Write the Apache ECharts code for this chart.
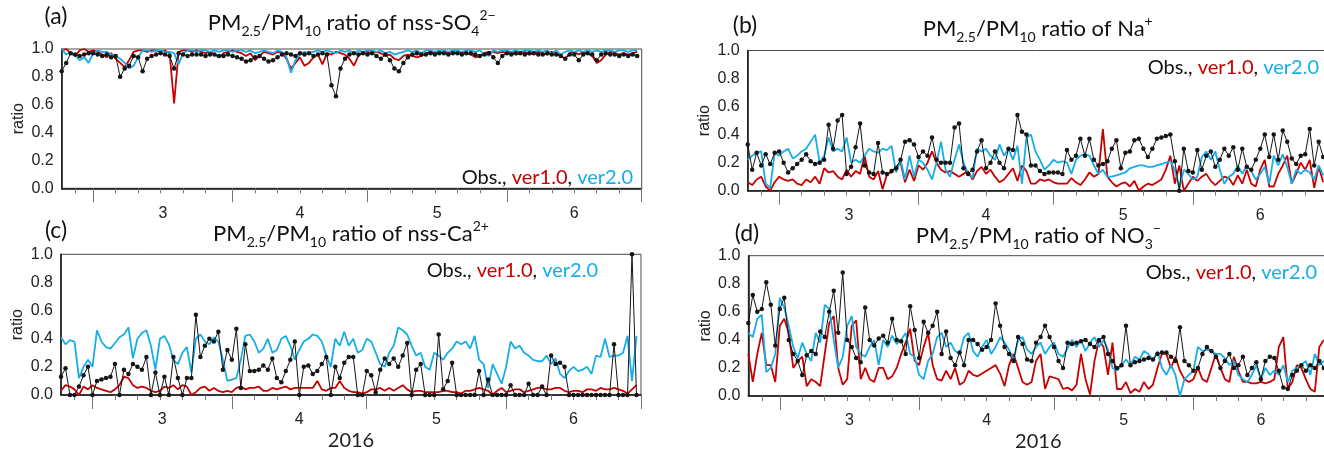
<!DOCTYPE html>
<html>
<head>
<meta charset="utf-8">
<script src="https://cdn.jsdelivr.net/npm/echarts@6/dist/echarts.min.js"></script>
<style>
  html, body { margin: 0; padding: 0; background: #fff; }
  #chart { width: 1324px; height: 451px; }
</style>
</head>
<body>
<div id="chart"></div>
<script>
// Daily PM2.5/PM10 ratios, 23 Feb – 30 Jun 2016 (day-of-year 54 … 182)
const START_DAY = 54;
const END_DAY = 183;                                  // 1 Jul 2016
const monthStarts = [61, 92, 122, 153, 183];          // 1 Mar, 1 Apr, 1 May, 1 Jun, 1 Jul
const monthLabels = ['3', '4', '5', '6'];
const minorTickDays = [57, 66, 71, 76, 81, 86, 97, 102, 107, 112, 117, 127, 132, 137, 142, 147, 158, 163, 168, 173, 178];
const yTickLabels = ['0.0', '0.2', '0.4', '0.6', '0.8', '1.0'];
const seriesNames = ['Obs.', 'ver1.0', 'ver2.0'];

// (a) nss-SO4 2-
const so4Obs = [
  0.84,0.90,0.97,0.96,0.95,0.96,0.97,0.97,0.96,0.95,
  0.96,0.94,0.95,0.80,0.86,0.88,0.95,0.94,0.84,0.93,
  0.95,0.96,0.97,0.96,0.95,0.86,0.97,0.96,0.95,0.96,
  0.96,0.96,0.95,0.96,0.96,0.95,0.95,0.96,0.95,0.94,
  0.93,0.91,0.92,0.94,0.95,0.93,0.91,0.92,0.94,0.96,
  0.97,0.96,0.95,0.97,0.96,0.97,0.95,0.96,0.97,0.96,
  0.74,0.66,0.86,0.93,0.96,0.97,0.96,0.97,0.96,0.97,
  0.95,0.93,0.96,0.92,0.86,0.84,0.90,0.94,0.96,0.97,
  0.96,0.96,0.97,0.96,0.97,0.97,0.96,0.97,0.97,0.96,
  0.97,0.97,0.96,0.95,0.96,0.97,0.94,0.90,0.95,0.97,
  0.96,0.97,0.97,0.96,0.97,0.97,0.96,0.96,0.97,0.96,
  0.96,0.95,0.93,0.96,0.96,0.92,0.96,0.97,0.96,0.92,
  0.96,0.97,0.96,0.96,0.95,0.96,0.95,0.96,0.95
];
const so4V1 = [
  0.99,1.00,0.97,0.95,0.99,1.00,0.98,0.99,0.98,0.96,
  0.94,0.97,0.93,0.90,0.87,0.92,0.98,0.99,0.99,0.98,
  0.99,0.99,0.98,0.99,0.97,0.61,0.98,0.99,0.99,0.98,
  0.99,0.98,0.97,0.98,0.96,0.94,0.97,0.98,0.99,0.98,
  0.97,0.95,0.97,0.92,0.95,0.98,0.97,0.96,0.98,0.97,
  0.93,0.86,0.90,0.94,0.88,0.90,0.94,0.96,0.89,0.97,
  0.96,0.98,0.97,0.96,0.93,0.88,0.95,0.98,0.98,0.97,
  0.98,0.97,0.95,0.96,0.93,0.92,0.95,0.96,0.95,0.94,
  0.95,0.97,0.98,0.97,0.98,0.97,0.98,0.98,0.97,0.98,
  0.97,0.96,0.94,0.95,0.97,0.98,0.98,0.97,0.98,0.97,
  0.98,0.96,0.97,0.98,0.96,0.97,0.98,0.97,0.96,0.98,
  0.97,0.95,0.93,0.97,0.98,0.96,0.98,0.97,0.95,0.90,
  0.92,0.96,0.98,0.97,0.96,0.97,0.96,0.97,0.98
];
const so4V2 = [
  1.00,0.96,0.98,0.95,0.92,0.94,0.90,0.97,0.99,0.98,
  0.98,0.96,0.95,0.93,0.90,0.86,0.88,0.94,0.99,0.99,
  0.98,0.99,0.99,0.98,0.98,0.97,0.89,0.97,0.99,0.99,
  0.98,0.99,0.99,0.98,0.99,0.98,0.99,0.99,0.98,0.99,
  0.99,0.98,0.99,0.97,0.98,0.99,0.98,0.97,0.99,0.98,
  0.94,0.83,0.92,0.96,0.98,0.97,0.98,0.99,0.98,0.99,
  0.98,0.97,0.99,0.98,0.99,0.97,0.99,0.98,0.99,0.99,
  0.98,0.99,0.97,0.98,0.96,0.97,0.98,0.99,0.98,0.99,
  0.97,0.99,0.99,0.98,0.99,0.99,0.98,0.99,0.99,0.98,
  0.99,0.99,0.98,0.99,0.96,0.95,0.99,0.98,0.99,0.99,
  0.98,0.99,0.98,0.99,0.99,0.98,0.99,0.98,0.99,0.97,
  0.99,0.96,0.98,0.99,0.98,0.99,0.98,0.99,0.98,0.99,
  0.98,0.99,0.99,0.98,0.99,0.99,0.98,0.99,0.99
];

// (b) Na+
const naObs = [
  0.33,0.15,0.27,0.18,0.26,0.19,0.27,0.28,0.20,0.13,
  0.16,0.19,0.22,0.26,0.21,0.19,0.20,0.22,0.47,0.30,
  0.50,0.54,0.12,0.17,0.31,0.48,0.18,0.13,0.12,0.34,
  0.13,0.12,0.14,0.16,0.22,0.35,0.36,0.33,0.24,0.28,
  0.25,0.38,0.22,0.20,0.20,0.20,0.45,0.48,0.16,0.12,
  0.15,0.28,0.36,0.16,0.20,0.28,0.20,0.16,0.30,0.29,
  0.54,0.42,0.40,0.18,0.18,0.14,0.12,0.13,0.13,0.13,
  0.12,0.29,0.22,0.25,0.37,0.25,0.37,0.22,0.18,0.19,
  0.21,0.30,0.36,0.16,0.27,0.28,0.36,0.37,0.30,0.24,
  0.30,0.37,0.38,0.39,0.40,0.21,0.00,0.30,0.14,0.13,
  0.29,0.15,0.25,0.28,0.17,0.22,0.30,0.25,0.31,0.15,
  0.30,0.17,0.15,0.22,0.30,0.40,0.24,0.40,0.22,0.43,
  0.35,0.23,0.19,0.25,0.26,0.44,0.18,0.35,0.24
];
const naV1 = [
  0.06,0.04,0.08,0.10,0.03,0.00,0.06,0.10,0.08,0.07,
  0.08,0.05,0.04,0.08,0.06,0.10,0.05,0.16,0.13,0.14,
  0.10,0.08,0.15,0.10,0.14,0.12,0.25,0.10,0.08,0.14,
  0.01,0.12,0.13,0.17,0.20,0.06,0.15,0.07,0.18,0.15,
  0.20,0.28,0.20,0.15,0.13,0.14,0.12,0.10,0.12,0.14,
  0.08,0.14,0.17,0.12,0.15,0.10,0.06,0.08,0.12,0.16,
  0.07,0.18,0.14,0.05,0.05,0.08,0.07,0.08,0.06,0.05,
  0.05,0.05,0.09,0.06,0.04,0.08,0.13,0.10,0.12,0.44,
  0.10,0.06,0.03,0.05,0.06,0.03,0.07,0.00,0.03,0.05,
  0.04,0.06,0.08,0.15,0.25,0.05,0.18,0.00,0.05,0.10,
  0.07,0.10,0.12,0.07,0.04,0.07,0.10,0.09,0.04,0.11,
  0.05,0.15,0.05,0.03,0.15,0.22,0.03,0.03,0.12,0.18,
  0.25,0.05,0.12,0.20,0.15,0.22,0.02,0.17,0.06
];
const naV2 = [
  0.22,0.25,0.27,0.28,0.05,0.02,0.27,0.25,0.28,0.30,
  0.23,0.25,0.28,0.30,0.35,0.40,0.20,0.25,0.38,0.28,
  0.30,0.28,0.38,0.20,0.22,0.20,0.25,0.30,0.28,0.27,
  0.30,0.29,0.32,0.13,0.22,0.08,0.25,0.10,0.22,0.20,
  0.15,0.08,0.20,0.35,0.15,0.10,0.22,0.33,0.20,0.12,
  0.09,0.30,0.28,0.30,0.25,0.22,0.33,0.25,0.30,0.22,
  0.32,0.05,0.38,0.40,0.28,0.22,0.15,0.18,0.22,0.20,
  0.21,0.20,0.12,0.22,0.25,0.26,0.25,0.18,0.12,0.15,
  0.10,0.10,0.11,0.12,0.13,0.16,0.17,0.18,0.18,0.17,
  0.17,0.18,0.19,0.20,0.21,0.15,0.02,0.15,0.12,0.08,
  0.10,0.24,0.28,0.22,0.28,0.15,0.05,0.10,0.12,0.18,
  0.12,0.18,0.14,0.08,0.12,0.17,0.05,0.25,0.18,0.26,
  0.17,0.05,0.15,0.12,0.15,0.13,0.08,0.18,0.11
];

// (c) nss-Ca2+
const caObs = [
  0.13,0.19,0.00,0.00,0.06,0.14,0.20,0.00,0.10,0.11,
  0.12,0.13,0.22,0.00,0.18,0.15,0.22,0.20,0.18,0.27,
  0.00,0.16,0.00,0.13,0.00,0.27,0.12,0.00,0.12,0.12,
  0.57,0.27,0.35,0.40,0.38,0.45,0.18,0.32,0.25,0.47,
  0.05,0.36,0.17,0.17,0.18,0.21,0.18,0.26,0.12,0.09,
  0.17,0.25,0.38,0.00,0.20,0.21,0.15,0.17,0.22,0.27,
  0.00,0.20,0.12,0.23,0.27,0.27,0.00,0.00,0.17,0.14,
  0.02,0.18,0.26,0.22,0.26,0.20,0.28,0.37,0.00,0.18,
  0.22,0.00,0.00,0.00,0.43,0.04,0.10,0.23,0.00,0.00,
  0.00,0.00,0.00,0.17,0.00,0.11,0.00,0.00,0.00,0.00,
  0.07,0.00,0.00,0.00,0.08,0.00,0.00,0.06,0.00,0.28,
  0.22,0.23,0.20,0.00,0.00,0.00,0.00,0.00,0.00,0.00,
  0.00,0.00,0.00,0.36,0.00,0.00,0.00,1.00,0.00
];
const caV1 = [
  0.03,0.07,0.06,0.04,0.00,0.06,0.04,0.07,0.05,0.04,
  0.03,0.02,0.04,0.07,0.13,0.12,0.07,0.05,0.06,0.05,
  0.03,0.02,0.03,0.06,0.05,0.07,0.04,0.07,0.06,0.00,
  0.02,0.05,0.06,0.03,0.05,0.03,0.02,0.03,0.02,0.05,
  0.06,0.04,0.05,0.05,0.06,0.03,0.03,0.05,0.04,0.05,
  0.06,0.04,0.05,0.05,0.05,0.05,0.05,0.10,0.04,0.03,
  0.05,0.05,0.10,0.05,0.03,0.02,0.02,0.01,0.02,0.04,
  0.04,0.05,0.03,0.05,0.03,0.05,0.07,0.04,0.02,0.03,
  0.03,0.02,0.02,0.02,0.02,0.03,0.03,0.02,0.02,0.01,
  0.03,0.03,0.04,0.05,0.04,0.03,0.00,0.03,0.05,0.02,
  0.03,0.04,0.04,0.02,0.03,0.04,0.05,0.05,0.04,0.04,
  0.05,0.05,0.03,0.02,0.03,0.03,0.02,0.04,0.04,0.03,
  0.05,0.04,0.04,0.05,0.04,0.03,0.01,0.04,0.07
];
const caV2 = [
  0.41,0.36,0.39,0.38,0.12,0.20,0.25,0.20,0.46,0.38,
  0.34,0.33,0.37,0.41,0.43,0.48,0.26,0.40,0.44,0.46,
  0.35,0.18,0.40,0.42,0.36,0.25,0.22,0.30,0.34,0.16,
  0.40,0.43,0.38,0.36,0.41,0.38,0.25,0.10,0.11,0.12,
  0.25,0.42,0.43,0.38,0.30,0.33,0.40,0.30,0.32,0.40,
  0.42,0.35,0.25,0.32,0.38,0.40,0.43,0.42,0.38,0.28,
  0.20,0.40,0.35,0.45,0.35,0.40,0.30,0.32,0.40,0.38,
  0.30,0.22,0.20,0.30,0.35,0.48,0.46,0.43,0.35,0.28,
  0.30,0.20,0.18,0.30,0.28,0.25,0.30,0.33,0.38,0.36,
  0.38,0.33,0.42,0.25,0.22,0.05,0.22,0.15,0.08,0.20,
  0.38,0.33,0.35,0.30,0.28,0.25,0.24,0.24,0.28,0.22,
  0.26,0.15,0.12,0.17,0.20,0.17,0.18,0.20,0.15,0.28,
  0.27,0.40,0.27,0.28,0.28,0.30,0.42,0.10,0.42
];

// (d) NO3-
const no3Obs = [
  0.52,0.72,0.60,0.62,0.81,0.65,0.36,0.62,0.70,0.40,
  0.30,0.25,0.15,0.29,0.32,0.30,0.46,0.42,0.60,0.75,
  0.45,0.88,0.40,0.35,0.27,0.24,0.63,0.40,0.36,0.41,
  0.43,0.38,0.55,0.40,0.39,0.30,0.64,0.47,0.27,0.53,
  0.45,0.50,0.60,0.30,0.46,0.27,0.22,0.31,0.22,0.40,
  0.40,0.37,0.33,0.35,0.40,0.66,0.50,0.35,0.30,0.25,
  0.42,0.37,0.26,0.25,0.38,0.42,0.50,0.42,0.35,0.25,
  0.20,0.38,0.37,0.38,0.39,0.40,0.37,0.35,0.40,0.42,
  0.30,0.25,0.20,0.22,0.50,0.22,0.24,0.25,0.26,0.27,
  0.26,0.30,0.31,0.31,0.28,0.25,0.49,0.25,0.22,0.18,
  0.20,0.30,0.35,0.32,0.28,0.20,0.25,0.30,0.20,0.22,
  0.28,0.15,0.20,0.24,0.12,0.25,0.28,0.27,0.18,0.06,
  0.05,0.15,0.18,0.22,0.18,0.22,0.20,0.25,0.20
];
const no3V1 = [
  0.30,0.10,0.30,0.45,0.22,0.22,0.10,0.50,0.55,0.45,
  0.20,0.25,0.28,0.07,0.12,0.10,0.07,0.30,0.52,0.57,
  0.20,0.08,0.12,0.50,0.54,0.12,0.20,0.12,0.10,0.20,
  0.20,0.12,0.14,0.20,0.30,0.38,0.48,0.25,0.22,0.35,
  0.45,0.22,0.12,0.11,0.18,0.12,0.20,0.08,0.10,0.18,
  0.15,0.14,0.16,0.18,0.20,0.22,0.16,0.07,0.22,0.30,
  0.20,0.10,0.08,0.10,0.25,0.30,0.05,0.14,0.13,0.12,
  0.05,0.06,0.04,0.08,0.30,0.12,0.01,0.25,0.40,0.35,
  0.15,0.38,0.05,0.05,0.10,0.02,0.05,0.03,0.10,0.05,
  0.08,0.20,0.30,0.30,0.20,0.28,0.18,0.12,0.10,0.12,
  0.20,0.12,0.10,0.20,0.30,0.20,0.12,0.10,0.28,0.18,
  0.10,0.10,0.09,0.09,0.10,0.09,0.10,0.12,0.35,0.42,
  0.05,0.10,0.22,0.20,0.12,0.05,0.03,0.35,0.40
];
const no3V2 = [
  0.45,0.42,0.55,0.58,0.17,0.20,0.30,0.70,0.63,0.50,
  0.35,0.27,0.38,0.30,0.25,0.45,0.38,0.65,0.62,0.40,
  0.20,0.28,0.50,0.57,0.35,0.30,0.28,0.35,0.40,0.22,
  0.40,0.35,0.43,0.37,0.40,0.45,0.30,0.28,0.15,0.12,
  0.25,0.30,0.42,0.45,0.35,0.38,0.32,0.30,0.42,0.45,
  0.32,0.28,0.35,0.40,0.30,0.35,0.42,0.38,0.33,0.25,
  0.40,0.42,0.33,0.30,0.35,0.38,0.30,0.35,0.38,0.30,
  0.28,0.34,0.40,0.35,0.40,0.32,0.38,0.42,0.35,0.40,
  0.33,0.20,0.18,0.22,0.26,0.22,0.28,0.26,0.32,0.30,
  0.25,0.32,0.20,0.15,0.22,0.15,0.00,0.12,0.15,0.18,
  0.35,0.32,0.33,0.32,0.30,0.30,0.27,0.22,0.25,0.15,
  0.12,0.10,0.15,0.22,0.12,0.20,0.15,0.18,0.15,0.22,
  0.10,0.18,0.20,0.22,0.25,0.15,0.30,0.22,0.25
];

// ---- styling ----
const COLOR_OBS = '#151515';
const COLOR_V1 = '#c80000';
const COLOR_V2 = '#16ade8';
const LABEL_FONT = '"Liberation Sans", Arial, sans-serif';
const TEXT_FONT = 'Lato, "Noto Sans", sans-serif';
const PLOT_W = 580;

const monthMids = monthStarts.slice(0, -1).map((d, i) => (d + monthStarts[i + 1]) / 2);

const panels = [
  { tag: '(a)', left: 61.7,  top: 49,    height: 139.3, data: [so4Obs, so4V1, so4V2], bottom: false,
    title: '{m|PM}{s|2.5}{m|/PM}{s|10}{m| ratio of nss-SO}{s|4}{p|2−}', titleY: 23, tagX: 56, tagY: 17,
    legend: { x: 633, y: 178 } },
  { tag: '(b)', left: 747.7, top: 50.5,  height: 140.2, data: [naObs, naV1, naV2], bottom: false,
    title: '{m|PM}{s|2.5}{m|/PM}{s|10}{m| ratio of Na}{p|+}', titleY: 29, tagX: 745, tagY: 26,
    legend: { x: 1319, y: 68 } },
  { tag: '(c)', left: 61,    top: 254.3, height: 140.7, data: [caObs, caV1, caV2], bottom: true,
    title: '{m|PM}{s|2.5}{m|/PM}{s|10}{m| ratio of nss-Ca}{p|2+}', titleY: 234, tagX: 56, tagY: 231,
    legend: { x: 598, y: 271 } },
  { tag: '(d)', left: 748.3, top: 255.7, height: 140.3, data: [no3Obs, no3V1, no3V2], bottom: true,
    title: '{m|PM}{s|2.5}{m|/PM}{s|10}{m| ratio of NO}{s|3}{p|−}', titleY: 236, tagX: 747, tagY: 234,
    legend: { x: 1317, y: 273 } }
];

const titleRich = {
  m: { fontFamily: TEXT_FONT, fontSize: 22, lineHeight: 30, verticalAlign: 'middle', fill: '#111' },
  s: { fontFamily: TEXT_FONT, fontSize: 14, lineHeight: 15, verticalAlign: 'bottom', fill: '#111' },
  p: { fontFamily: TEXT_FONT, fontSize: 14, lineHeight: 15, verticalAlign: 'top', fill: '#111' }
};
const legendRich = {
  k: { fontFamily: TEXT_FONT, fontSize: 20, fill: '#111' },
  r: { fontFamily: TEXT_FONT, fontSize: 20, fill: COLOR_V1 },
  c: { fontFamily: TEXT_FONT, fontSize: 20, fill: COLOR_V2 }
};

const toPoints = arr => arr.map((v, i) => [START_DAY + i, v]);

const grids = [], xAxes = [], yAxes = [], series = [], graphics = [];

panels.forEach((p, i) => {
  grids.push({
    left: p.left, top: p.top, width: PLOT_W, height: p.height,
    show: true, borderColor: '#4a4a4a', borderWidth: 1,
    containLabel: false, outerBoundsMode: 'none'
  });

  // month boundaries (long ticks) and month numbers centred in each month
  xAxes.push({
    type: 'value', gridIndex: i, min: START_DAY, max: END_DAY, position: 'bottom',
    axisLine: { show: true, onZero: false, lineStyle: { color: '#111', width: 1.5 } },
    axisTick: { show: true, customValues: monthStarts, length: 14, lineStyle: { color: '#777', width: 1 } },
    axisLabel: {
      show: true, customValues: monthMids, margin: 17,
      formatter: v => monthLabels[monthMids.indexOf(v)] || '',
      fontFamily: LABEL_FONT, fontSize: 16, color: '#222'
    },
    splitLine: { show: false },
    name: p.bottom ? '2016' : '', nameLocation: 'middle', nameGap: 36,
    nameTextStyle: { fontFamily: TEXT_FONT, fontSize: 20, color: '#222' }
  });
  // five-day minor ticks
  xAxes.push({
    type: 'value', gridIndex: i, min: START_DAY, max: END_DAY, position: 'bottom',
    axisLine: { show: false },
    axisTick: { show: true, customValues: minorTickDays, length: 5, lineStyle: { color: '#777', width: 1 } },
    axisLabel: { show: false },
    splitLine: { show: false }
  });

  yAxes.push({
    type: 'value', gridIndex: i, min: 0, max: 1, interval: 0.2,
    axisLine: { show: true, lineStyle: { color: '#111', width: 1.5 } },
    axisTick: { show: false },
    axisLabel: {
      formatter: v => yTickLabels[Math.round(v * 5)],
      fontFamily: LABEL_FONT, fontSize: 16, color: '#222', margin: 8
    },
    splitLine: { show: false },
    name: 'ratio', nameLocation: 'middle', nameRotate: 90, nameGap: 35,
    nameTextStyle: { fontFamily: LABEL_FONT, fontSize: 16, color: '#222' }
  });

  const [obs, v1, v2] = p.data;
  const xIdx = i * 2;
  series.push({
    name: seriesNames[1], type: 'line', xAxisIndex: xIdx, yAxisIndex: i,
    data: toPoints(v1), showSymbol: false, lineStyle: { color: COLOR_V1, width: 1.8 },
    itemStyle: { color: COLOR_V1 }, animation: false, silent: true
  });
  series.push({
    name: seriesNames[2], type: 'line', xAxisIndex: xIdx, yAxisIndex: i,
    data: toPoints(v2), showSymbol: false, lineStyle: { color: COLOR_V2, width: 1.8 },
    itemStyle: { color: COLOR_V2 }, animation: false, silent: true
  });
  series.push({
    name: seriesNames[0], type: 'line', xAxisIndex: xIdx, yAxisIndex: i,
    data: toPoints(obs), symbol: 'circle', symbolSize: 4.5, showSymbol: true,
    lineStyle: { color: COLOR_OBS, width: 1 }, itemStyle: { color: COLOR_OBS },
    animation: false, silent: true
  });

  // panel tag, title and colour-keyed legend text
  graphics.push({
    type: 'text', x: p.tagX, y: p.tagY,
    style: { text: p.tag, fontFamily: TEXT_FONT, fontSize: 23, fill: '#111', align: 'center', verticalAlign: 'middle' }
  });
  graphics.push({
    type: 'text', x: p.left + PLOT_W / 2, y: p.titleY,
    style: { text: p.title, rich: titleRich, align: 'center', verticalAlign: 'middle' }
  });
  graphics.push({
    type: 'text', x: p.legend.x, y: p.legend.y, z: 10,
    style: {
      text: '{k|' + seriesNames[0] + ', }{r|' + seriesNames[1] + '}{k|, }{c|' + seriesNames[2] + '}',
      rich: legendRich, align: 'right', verticalAlign: 'middle'
    }
  });
});

const chart = echarts.init(document.getElementById('chart'), null, { renderer: 'canvas' });
chart.setOption({
  animation: false,
  backgroundColor: '#fff',
  grid: grids,
  xAxis: xAxes,
  yAxis: yAxes,
  series: series,
  graphic: graphics
});
</script>
</body>
</html>
